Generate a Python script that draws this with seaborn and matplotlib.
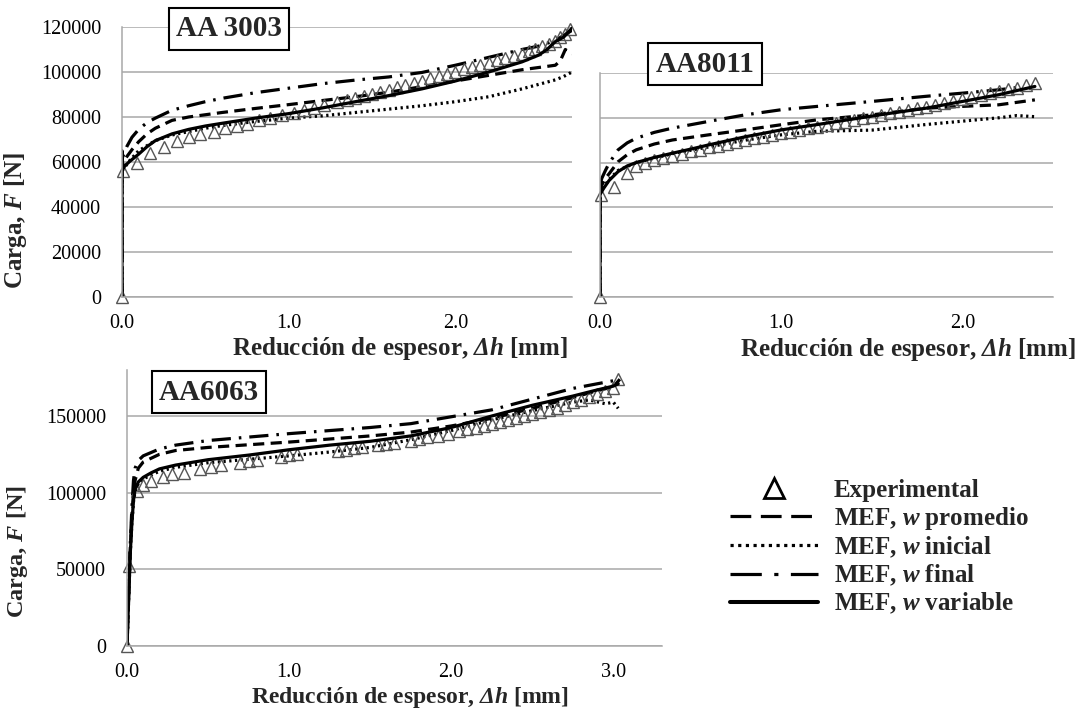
import matplotlib
matplotlib.use("Agg")
import matplotlib.pyplot as plt
from matplotlib.lines import Line2D
import seaborn as sns

# ---------------- data ----------------
# AA 3003
p1_x_exp = [0, 0.005, 0.09, 0.17, 0.25, 0.33, 0.40, 0.47, 0.55, 0.62, 0.69, 0.75, 0.82, 0.89, 0.96, 1.03,
            1.09, 1.15, 1.21, 1.29, 1.35, 1.40, 1.45, 1.50, 1.55, 1.60, 1.65, 1.70, 1.75, 1.80, 1.85,
            1.90, 1.95, 2.00, 2.05, 2.10, 2.15, 2.20, 2.25, 2.30, 2.35, 2.40, 2.44, 2.48, 2.52, 2.56,
            2.60, 2.63, 2.66, 2.69]
p1_f_exp = [0, 56000, 59600, 64000, 66700, 69300, 71100, 72400, 73300, 75100, 76000, 76900, 78700, 79600, 80900,
            81800, 83100, 84200, 85300, 86700, 87500, 88300, 89200, 90200, 91200, 92200, 93200, 94200, 95200,
            96200, 97200, 98200, 99200, 100200, 101200, 102200, 103200, 104200, 105200, 106200, 107200, 108200,
            109200, 110200, 111500, 112500, 114000, 115500, 117000, 119000]
p1_x_var = [0, 0, 0.005, 0.02, 0.05, 0.1, 0.15, 0.2, 0.3, 0.4, 0.5, 0.6, 0.8, 1.0, 1.2, 1.4, 1.6, 1.8, 2.0,
            2.2, 2.4, 2.5, 2.55, 2.6, 2.65, 2.7]
p1_f_var = [0, 65000, 57000, 58500, 60500, 63500, 66800, 69500, 72500, 74500, 76000, 77200, 79500, 81500, 84000,
            86800, 89500, 92500, 96000, 100000, 104500, 107500, 110000, 113500, 115500, 119500]
p1_x_prom = [0, 0, 0.01, 0.03, 0.06, 0.1, 0.15, 0.2, 0.3, 0.4, 0.5, 0.6, 0.8, 1.0, 1.2, 1.4, 1.6, 1.8, 2.0,
             2.2, 2.4, 2.5, 2.6, 2.63, 2.66, 2.7]
p1_f_prom = [0, 58000, 60000, 62500, 65500, 69000, 72500, 75000, 78500, 80000, 81000, 82000, 83800, 85500, 87300,
             89000, 91000, 93500, 96000, 98500, 101000, 102000, 103000, 105000, 110000, 108000]
p1_x_fin = [0, 0, 0.01, 0.03, 0.06, 0.1, 0.15, 0.2, 0.3, 0.4, 0.5, 0.6, 0.8, 1.0, 1.2, 1.4, 1.6, 1.8, 2.0,
            2.2, 2.4, 2.5, 2.6, 2.7]
p1_f_fin = [0, 61000, 63500, 67000, 71000, 74500, 77500, 79500, 83000, 85000, 86800, 88300, 90800, 92800, 94800,
            96400, 97800, 99800, 103000, 106500, 110000, 111500, 114000, 118500]
p1_x_ini = [0, 0, 0.02, 0.05, 0.1, 0.2, 0.3, 0.4, 0.5, 0.6, 0.8, 1.0, 1.2, 1.4, 1.6, 1.8, 2.0, 2.2, 2.4, 2.5,
            2.6, 2.65, 2.7]
p1_f_ini = [0, 56000, 58000, 61000, 65000, 69500, 72000, 73500, 75000, 76200, 78000, 79500, 80500, 82000, 83500,
            85000, 86800, 89000, 92500, 94500, 96500, 98000, 100000]

# AA8011
p2_x_exp = [0, 0.005, 0.08, 0.15, 0.2, 0.25, 0.3, 0.35, 0.4, 0.45, 0.5, 0.55, 0.6, 0.65, 0.7, 0.75, 0.8, 0.85,
            0.9, 0.95, 1.0, 1.05, 1.1, 1.15, 1.2, 1.25, 1.3, 1.35, 1.4, 1.45, 1.5, 1.55, 1.6, 1.65, 1.7, 1.75,
            1.8, 1.85, 1.9, 1.95, 2.0, 2.05, 2.1, 2.15, 2.2, 2.25, 2.3, 2.35, 2.4]
p2_f_exp = [0, 45500, 49300, 55200, 58500, 60000, 61000, 62000, 63000, 64000, 65000, 65800, 66800, 67500, 68300,
            69000, 70000, 70800, 71500, 72300, 73000, 73800, 74500, 75300, 76000, 76800, 77500, 78300, 79000,
            79800, 80500, 81300, 82000, 82800, 83500, 84300, 85000, 85800, 86500, 87500, 88300, 89200, 90000,
            91000, 91800, 92800, 93500, 94500, 95500]
p2_x_var = [0, 0, 0.005, 0.02, 0.05, 0.1, 0.15, 0.2, 0.3, 0.4, 0.5, 0.6, 0.8, 1.0, 1.2, 1.4, 1.6, 1.8, 2.0, 2.2, 2.4]
p2_f_var = [0, 50000, 46500, 48500, 52000, 56000, 58500, 60000, 62300, 64200, 66000, 67900, 71500, 74600, 77000,
            79500, 82000, 84300, 87300, 90300, 94000]
p2_x_prom = [0, 0, 0.01, 0.03, 0.05, 0.1, 0.15, 0.2, 0.3, 0.4, 0.6, 0.8, 1.0, 1.2, 1.5, 1.8, 2.0, 2.2, 2.4]
p2_f_prom = [0, 48000, 50000, 53000, 55000, 60400, 63500, 65700, 68300, 70100, 72400, 74600, 76900, 79100, 81300,
             84300, 85100, 85800, 88000]
p2_x_fin = [0, 0, 0.01, 0.03, 0.05, 0.1, 0.15, 0.2, 0.3, 0.4, 0.6, 0.8, 1.0, 1.2, 1.5, 1.8, 2.0, 2.2, 2.3]
p2_f_fin = [0, 50000, 53000, 56500, 59700, 65700, 68800, 70900, 73500, 75400, 78400, 81300, 83600, 85100, 87300,
            89600, 91000, 92500, 93500]
p2_x_ini = [0, 0, 0.02, 0.05, 0.1, 0.2, 0.3, 0.4, 0.6, 0.8, 1.0, 1.2, 1.5, 1.8, 2.0, 2.2, 2.3, 2.4]
p2_f_ini = [0, 46000, 49000, 52500, 56500, 60000, 62000, 64000, 67000, 70000, 72400, 74000, 74500, 77000, 78500,
            80000, 81000, 80500]

# AA6063
p3_x_exp = [0, 0.01, 0.06, 0.1, 0.15, 0.22, 0.28, 0.35, 0.45, 0.52, 0.58, 0.7, 0.75, 0.8, 0.95, 1.0, 1.05, 1.3,
            1.35, 1.4, 1.45, 1.55, 1.6, 1.65, 1.75, 1.8, 1.85, 1.92, 1.98, 2.05, 2.1, 2.15, 2.2, 2.25, 2.3, 2.35,
            2.4, 2.45, 2.5, 2.55, 2.6, 2.65, 2.7, 2.75, 2.8, 2.85, 2.9, 2.95, 3.0, 3.03]
p3_f_exp = [0, 52000, 101000, 105000, 107500, 110000, 112000, 113000, 115500, 117000, 118000, 119500, 120500,
            121000, 123500, 124500, 125000, 127500, 128000, 129000, 129500, 131000, 131500, 132500, 134000, 135000,
            136000, 137000, 138000, 140000, 141500, 142500, 143500, 145000, 146000, 147500, 148500, 150000, 151000,
            152500, 154000, 155500, 157000, 159000, 160500, 162500, 164500, 166500, 168500, 174000]
p3_x_var = [0, 0.01, 0.02, 0.03, 0.04, 0.05, 0.07, 0.1, 0.15, 0.2, 0.3, 0.5, 0.75, 1.0, 1.25, 1.5, 1.75, 2.0,
            2.25, 2.5, 2.75, 2.9, 3.0, 3.03]
p3_f_var = [0, 30000, 60000, 80000, 95000, 102000, 107000, 110000, 113000, 115500, 118000, 121500, 124500, 128000,
            131000, 133500, 137000, 142500, 150000, 157000, 163000, 167000, 169500, 171000]
p3_x_prom = [0, 0.01, 0.02, 0.03, 0.04, 0.05, 0.07, 0.1, 0.2, 0.3, 0.5, 1.0, 1.5, 1.75, 2.0, 2.25, 2.5, 2.75,
             2.9, 3.0, 3.04]
p3_f_prom = [0, 32000, 63000, 85000, 100000, 108000, 116000, 120000, 125000, 127500, 129500, 133000, 137000,
             139500, 143500, 148500, 155000, 162000, 166500, 169000, 174000]
p3_x_fin = [0, 0.01, 0.02, 0.03, 0.04, 0.05, 0.07, 0.1, 0.2, 0.3, 0.5, 1.0, 1.5, 1.75, 2.0, 2.25, 2.5, 2.75,
            2.9, 3.0, 3.04]
p3_f_fin = [0, 33000, 66000, 90000, 108000, 116000, 121000, 124000, 128500, 131000, 134000, 138500, 142500,
            145000, 149500, 154000, 161000, 168000, 171000, 173000, 176000]
p3_x_ini = [0, 0.01, 0.02, 0.03, 0.04, 0.05, 0.07, 0.1, 0.2, 0.3, 0.5, 1.0, 1.25, 1.5, 1.75, 2.0, 2.25, 2.5,
            2.75, 2.85, 2.95, 3.0, 3.03]
p3_f_ini = [0, 30000, 60000, 80000, 94000, 101000, 106000, 109000, 114000, 116500, 119500, 124000, 126500,
            129500, 134500, 140500, 147500, 153500, 159000, 160500, 158000, 159000, 155000]

titles = ["AA 3003", "AA8011", "AA6063"]
xticks = [[0, 1, 2], [0, 1, 2], [0, 1, 2, 3]]
xticklabels = [["0.0", "1.0", "2.0"], ["0.0", "1.0", "2.0"], ["0.0", "1.0", "2.0", "3.0"]]
p1_yticks = [0, 20000, 40000, 60000, 80000, 100000, 120000]
p2_yticks = [0, 20000, 40000, 60000, 80000, 100000]
p3_yticks = [0, 50000, 100000, 150000]
legend_labels = ["Experimental", "MEF, $w$ promedio", "MEF, $w$ inicial", "MEF, $w$ final", "MEF, $w$ variable"]
xlabel = "Reducción de espesor, $\\mathsf{Δh}$ [mm]"
ylabel = "Carga, $F$ [N]"

# ---------------- style ----------------
sns.set_style("white")
plt.rcParams["font.family"] = ["Liberation Serif", "DejaVu Serif"]
plt.rcParams["mathtext.fontset"] = "custom"
plt.rcParams["mathtext.rm"] = "Liberation Serif:bold"
plt.rcParams["mathtext.it"] = "Liberation Serif:italic:bold"
plt.rcParams["mathtext.sf"] = "Liberation Serif:italic:bold"
plt.rcParams["mathtext.bf"] = "Liberation Serif:bold"

W, H = 1078, 713
fig = plt.figure(figsize=(W / 100, H / 100), dpi=100)


def px_axes(l, t, r, b):
    return fig.add_axes([l / W, 1 - b / H, (r - l) / W, (b - t) / H])


GRID = "#a8a8a8"
LW = 2.3
ls_prom = (0, (3.5, 2.0))
ls_ini = (0, (0.7, 1.1))
ls_fin = (0, (6.0, 2.5, 0.8, 2.5))

ax1 = px_axes(122, 27, 572, 297)
ax2 = px_axes(600, 73, 1053, 297)
ax3 = px_axes(127, 370, 662, 646)

panels = [
    (ax1, p1_x_exp, p1_f_exp, p1_x_var, p1_f_var, p1_x_prom, p1_f_prom, p1_x_fin, p1_f_fin, p1_x_ini, p1_f_ini),
    (ax2, p2_x_exp, p2_f_exp, p2_x_var, p2_f_var, p2_x_prom, p2_f_prom, p2_x_fin, p2_f_fin, p2_x_ini, p2_f_ini),
    (ax3, p3_x_exp, p3_f_exp, p3_x_var, p3_f_var, p3_x_prom, p3_f_prom, p3_x_fin, p3_f_fin, p3_x_ini, p3_f_ini),
]

for ax, xe, fe, xv, fv, xp, fp, xf, ff, xi, fi in panels:
    sns.lineplot(x=xi, y=fi, ax=ax, color="black", lw=LW, linestyle=ls_ini, sort=False, estimator=None)
    sns.lineplot(x=xp, y=fp, ax=ax, color="black", lw=LW, linestyle=ls_prom, sort=False, estimator=None)
    sns.lineplot(x=xf, y=ff, ax=ax, color="black", lw=LW, linestyle=ls_fin, sort=False, estimator=None)
    sns.lineplot(x=xe, y=fe, ax=ax, linestyle="none", marker="^", ms=8, mfc="none", mec="#555555",
                 mew=1.0, sort=False, estimator=None, clip_on=False)
    sns.lineplot(x=xv, y=fv, ax=ax, color="black", lw=LW, sort=False, estimator=None)

ax1.set_xlim(0, 2.7)
ax1.set_ylim(0, 120000)
ax1.set_yticks(p1_yticks)
ax2.set_xlim(0, 2.5)
ax2.set_ylim(0, 100000)
ax2.set_yticks(p2_yticks)
ax3.set_xlim(0, 3.3)
ax3.set_ylim(0, 180000)
ax3.set_yticks(p3_yticks)

for i, ax in enumerate([ax1, ax2, ax3]):
    ax.set_xticks(xticks[i])
    ax.set_xticklabels(xticklabels[i])
    ax.set_xlabel("")
    ax.set_ylabel("")
    ax.yaxis.grid(True, color=GRID, lw=1.1)
    ax.xaxis.grid(False)
    ax.set_axisbelow(True)
    for s in ["top", "right"]:
        ax.spines[s].set_visible(False)
    for s in ["left", "bottom"]:
        ax.spines[s].set_color(GRID)
        ax.spines[s].set_linewidth(1.1)
    ax.tick_params(axis="x", length=5, width=1, color=GRID, pad=7, labelsize=14.5, labelcolor="black")
    ax.tick_params(axis="y", length=5, width=1, color=GRID, pad=10, labelsize=14.5, labelcolor="black")
    ax.patch.set_alpha(0)

ax2.tick_params(axis="y", length=0, labelleft=False)

# axis titles
lab = dict(fontweight="bold", ha="center", va="center")
fig.text(400 / W, 1 - 348 / H, xlabel, fontsize=18, **lab)
fig.text(908 / W, 1 - 350 / H, xlabel, fontsize=18, **lab)
fig.text(410 / W, 1 - 698 / H, xlabel, fontsize=17, **lab)
fig.text(16 / W, 1 - 221 / H, ylabel, rotation=90, fontsize=18, **lab)
fig.text(18 / W, 1 - 552 / H, ylabel, rotation=90, fontsize=17.5, **lab)

# alloy boxes
box = dict(boxstyle="square,pad=0.25", fc="white", ec="black", lw=1.5)
for t, (cx, cy) in zip(titles, [(229, 29), (705, 64), (209, 392)]):
    fig.text(cx / W, 1 - cy / H, t, fontsize=21, fontweight="bold", ha="center", va="center", bbox=box)

# legend
handles = [
    Line2D([], [], linestyle="none", marker="^", ms=15, mfc="none", mec="black", mew=2),
    Line2D([], [], color="black", lw=LW, linestyle=(0, (6.5, 3.0))),
    Line2D([], [], color="black", lw=LW, linestyle=(0, (1.0, 1.4))),
    Line2D([], [], color="black", lw=LW, linestyle=(0, (9.8, 3.9, 1.3, 3.9))),
    Line2D([], [], color="black", lw=LW + 0.6),
]
fig.legend(handles, legend_labels, loc="upper left", bbox_to_anchor=(730 / W, 1 - 479 / H),
           frameon=False, prop={"family": "Liberation Serif", "weight": "bold", "size": 18},
           handlelength=3.5, handletextpad=0.64, labelspacing=0.11, borderpad=0, borderaxespad=0)

fig.savefig("out.png", dpi=100)
